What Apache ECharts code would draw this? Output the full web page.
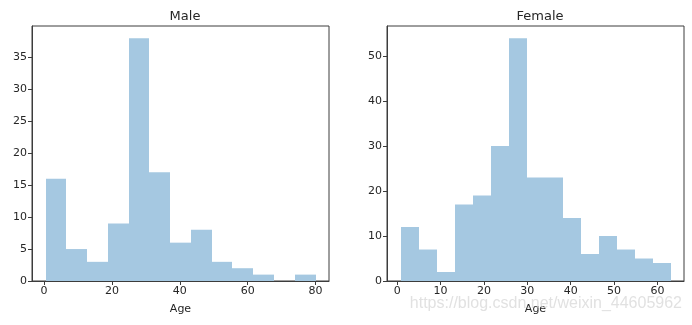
<!DOCTYPE html>
<html>
<head>
<meta charset="utf-8">
<script src="https://cdn.jsdelivr.net/npm/echarts@6/dist/echarts.min.js"></script>
<style>
  html, body { margin: 0; padding: 0; background: #fff; }
  #chart { width: 692px; height: 325px; }
</style>
</head>
<body>
<div id="chart"></div>
<script>
// Age histograms by sex
const maleEdges = [0.42, 6.54, 12.66, 18.79, 24.91, 31.03, 37.15, 43.27, 49.39, 55.51, 61.64, 67.76, 73.88, 80.00];
const maleCounts = [16, 5, 3, 9, 38, 17, 6, 8, 3, 2, 1, 0, 1];
const femaleEdges = [0.75, 4.90, 9.05, 13.20, 17.35, 21.50, 25.65, 29.80, 33.95, 38.10, 42.25, 46.40, 50.55, 54.70, 58.85, 63.00];
const femaleCounts = [12, 7, 2, 17, 19, 30, 54, 23, 23, 14, 6, 10, 7, 5, 4];

const maleXTicks = [0, 20, 40, 60, 80];
const maleYTicks = [0, 5, 10, 15, 20, 25, 30, 35];
const femaleXTicks = [0, 10, 20, 30, 40, 50, 60];
const femaleYTicks = [0, 10, 20, 30, 40, 50];

const FONT = 'DejaVu Sans';
const INK = '#262626';
const FRAME = '#3c3c3c';
const BAR = '#a5c8e1';

function binRows(edges, counts) {
  return counts.map((c, i) => [edges[i], edges[i + 1], c]);
}

// matplotlib-style 5% margins around the data
function pad(lo, hi) {
  const m = (hi - lo) * 0.05;
  return [lo - m, hi + m];
}

// One rectangle per bin; edges snapped to whole pixels so neighbouring bins meet without seams
function renderBin(params, api) {
  if (api.value(2) <= 0) return null;
  const a = api.coord([api.value(0), 0]);
  const b = api.coord([api.value(1), api.value(2)]);
  const x0 = Math.round(a[0]);
  const x1 = Math.round(b[0]);
  return {
    type: 'rect',
    shape: { x: x0, y: b[1], width: x1 - x0, height: a[1] - b[1] },
    style: { fill: BAR }
  };
}

function xAxisFor(gridIndex, edges, ticks) {
  const [mn, mx] = pad(edges[0], edges[edges.length - 1]);
  return {
    type: 'value', gridIndex, min: mn, max: mx, z: 5,
    name: 'Age', nameLocation: 'middle', nameGap: 23,
    nameTextStyle: { fontFamily: FONT, fontSize: 11, color: INK },
    splitLine: { show: false },
    axisLine: { show: true, onZero: false, lineStyle: { color: FRAME, width: 1 } },
    axisTick: { show: true, length: 4, customValues: ticks, lineStyle: { color: FRAME } },
    axisLabel: { customValues: ticks, fontFamily: FONT, fontSize: 11, color: INK, margin: 5 }
  };
}

function yAxisFor(gridIndex, counts, ticks) {
  const top = Math.max(...counts) * 1.05;
  return {
    type: 'value', gridIndex, min: 0, max: top, z: 5,
    splitLine: { show: false },
    axisLine: { show: true, onZero: false, lineStyle: { color: FRAME, width: 1 } },
    axisTick: { show: true, length: 4, customValues: ticks, lineStyle: { color: FRAME } },
    axisLabel: { customValues: ticks, fontFamily: FONT, fontSize: 11, color: INK, margin: 5 }
  };
}

const chart = echarts.init(document.getElementById('chart'), null, { renderer: 'canvas' });

chart.setOption({
  animation: false,
  backgroundColor: '#fff',
  title: [
    { text: 'Male', left: 180, top: 5, textAlign: 'center',
      textStyle: { fontFamily: FONT, fontSize: 13, fontWeight: 'normal', color: INK } },
    { text: 'Female', left: 535, top: 5, textAlign: 'center',
      textStyle: { fontFamily: FONT, fontSize: 13, fontWeight: 'normal', color: INK } }
  ],
  grid: [
    { left: 32, top: 26, width: 297, height: 255, show: true, borderColor: FRAME, borderWidth: 1 },
    { left: 387, top: 26, width: 297, height: 255, show: true, borderColor: FRAME, borderWidth: 1 }
  ],
  xAxis: [xAxisFor(0, maleEdges, maleXTicks), xAxisFor(1, femaleEdges, femaleXTicks)],
  yAxis: [yAxisFor(0, maleCounts, maleYTicks), yAxisFor(1, femaleCounts, femaleYTicks)],
  series: [
    { type: 'custom', xAxisIndex: 0, yAxisIndex: 0, renderItem: renderBin,
      encode: { x: [0, 1], y: 2 }, data: binRows(maleEdges, maleCounts) },
    { type: 'custom', xAxisIndex: 1, yAxisIndex: 1, renderItem: renderBin,
      encode: { x: [0, 1], y: 2 }, data: binRows(femaleEdges, femaleCounts) }
  ],
  graphic: [
    { type: 'text', right: 10, top: 296, z: 100,
      style: { text: 'https://blog.csdn.net/weixin_44605962', fontFamily: 'Liberation Sans',
        fontSize: 16, fill: 'rgba(215,215,215,0.75)' } }
  ]
});
</script>
</body>
</html>
